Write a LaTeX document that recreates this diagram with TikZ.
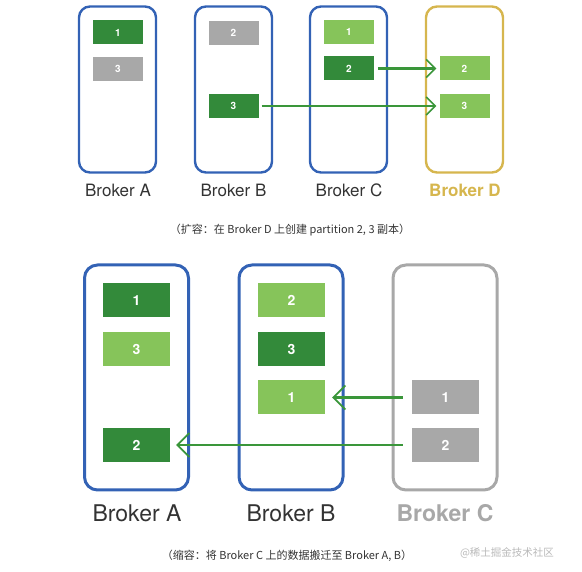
\documentclass[tikz,border=0pt]{standalone}
\usepackage{fontspec}
\setmainfont{TeX Gyre Heros}
\newfontfamily\cjk{Noto Sans CJK SC}
\usetikzlibrary{arrows.meta,positioning}
\definecolor{bblue}{HTML}{3362B5}
\definecolor{dgreen}{HTML}{338A3A}
\definecolor{lgreen}{HTML}{86C45A}
\definecolor{pgray}{HTML}{A8A8A8}
\definecolor{gold}{HTML}{D6B64E}
\definecolor{agreen}{HTML}{3A963A}
\definecolor{ltext}{HTML}{333333}

\begin{document}
\begin{tikzpicture}[x=1pt,y=-1pt,>=Stealth,
  broker/.style={draw=bblue,line width=2.4pt,rounded corners=11pt,minimum width=77pt,minimum height=166pt},
  bigbroker/.style={broker,line width=3pt,rounded corners=13pt,minimum width=104pt,minimum height=225pt},
  part/.style={text=white,font=\fontsize{10}{12}\selectfont\bfseries,minimum width=50pt,minimum height=24pt,inner sep=0pt},
  bigpart/.style={part,font=\fontsize{14}{16}\selectfont\bfseries,minimum width=67pt,minimum height=34pt},
  leader/.style={fill=dgreen},follower/.style={fill=lgreen},stale/.style={fill=pgray},
  brokername/.style={text=ltext,font=\fontsize{17}{20}\selectfont},
  bigbrokername/.style={text=ltext,font=\fontsize{23}{26}\selectfont},
  move/.style={draw=agreen,line width=2.4pt,-{Straight Barb[length=9pt,width=18pt,line width=1.6pt]}}]
\useasboundingbox (0,0) rectangle (582,572);
% expansion: add Broker D
\node[broker] (ta) at (117.5,89.5) {};
\node[broker] (tb) at (233.5,89.5) {};
\node[broker] (tc) at (348.5,89.5) {};
\node[broker,draw=gold] (td) at (464.5,89.5) {};
\node[part,leader] (ta1) at (118,32.5) {1};
\node[part,stale] (ta3) at (118,69) {3};
\node[part,stale] (tb2) at (233.5,33) {2};
\node[part,leader] (tb3) at (233.5,106) {3};
\node[part,follower] (tc1) at (349,32) {1};
\node[part,leader] (tc2) at (349,68.5) {2};
\node[part,follower] (td2) at (464.5,68.5) {2};
\node[part,follower] (td3) at (464.5,106) {3};
\node[brokername] (tna) at (118,190) {Broker A};
\node[brokername] (tnb) at (233.5,190) {Broker B};
\node[brokername] (tnc) at (349,190) {Broker C};
\node[brokername,text=gold,font=\fontsize{17}{20}\selectfont\bfseries] (tnd) at (465,190) {Broker D};
\draw[move,shorten <=4pt,shorten >=3pt] (tc2) -- (td2);
\draw[move,shorten <=3pt,shorten >=3pt] (tb3) -- (td3);
\node[text=ltext,font=\cjk\fontsize{11}{13}\selectfont] (tcap) at (290,230) {（扩容：在 Broker D 上创建 partition 2, 3 副本）};
% shrink: remove Broker C
\node[bigbroker] (ba) at (136.5,377.5) {};
\node[bigbroker] (bb) at (291,377.5) {};
\node[bigbroker,draw=pgray] (bc) at (445,377.5) {};
\node[bigpart,leader] (ba1) at (136.5,300.5) {1};
\node[bigpart,follower] (ba3) at (136.5,349) {3};
\node[bigpart,leader] (ba2) at (136.5,445) {2};
\node[bigpart,follower] (bb2) at (291.5,300.5) {2};
\node[bigpart,leader] (bb3) at (291.5,349) {3};
\node[bigpart,follower] (bb1) at (291.5,397.5) {1};
\node[bigpart,stale] (bc1) at (445.5,397.5) {1};
\node[bigpart,stale] (bc2) at (445.5,445) {2};
\node[bigbrokername] (bna) at (137,513) {Broker A};
\node[bigbrokername] (bnb) at (291,513) {Broker B};
\node[bigbrokername,text=pgray,font=\fontsize{23}{26}\selectfont\bfseries] (bnc) at (445,513) {Broker C};
\draw[move,-{Straight Barb[length=12pt,width=24pt,line width=1.8pt]},shorten <=9pt,shorten >=7pt] (bc1) -- (bb1);
\draw[move,-{Straight Barb[length=12pt,width=24pt,line width=1.8pt]},shorten <=9pt,shorten >=6pt] (bc2) -- (ba2);
\node[text=ltext,font=\cjk\fontsize{11}{13}\selectfont] (bcap) at (287,556) {（缩容：将 Broker C 上的数据搬迁至 Broker A, B）};
\node[text=pgray!80,font=\cjk\fontsize{10.5}{12}\selectfont] (mark) at (507,553) {@稀土掘金技术社区};
\end{tikzpicture}
\end{document}
